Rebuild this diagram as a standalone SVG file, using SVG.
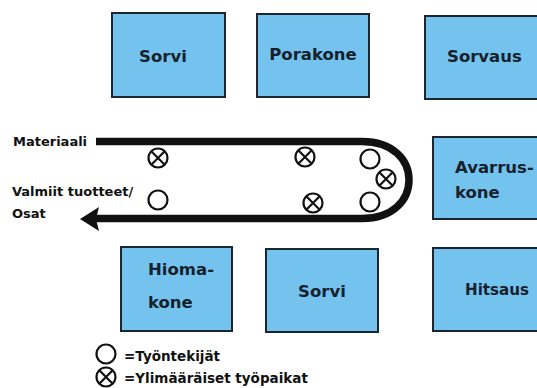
<svg xmlns="http://www.w3.org/2000/svg" width="537" height="388" viewBox="0 0 537 388">
  <style>
    .box { fill: #74c3ef; stroke: #1b2630; stroke-width: 2; }
    .lbl { font-family: "DejaVu Sans", "Liberation Sans", sans-serif; font-weight: bold; font-size: 16.5px; fill: #17212b; }
    .txt { font-family: "DejaVu Sans", "Liberation Sans", sans-serif; font-weight: bold; font-size: 13px; fill: #111; }
    .leg { font-size: 13.5px; }
    .belt { fill: none; stroke: #111; stroke-width: 7.5; }
    .mark { fill: #fff; stroke: #111; stroke-width: 2.2; }
    .cross { stroke: #111; stroke-width: 2.2; }
  </style>
  <defs>
    <!-- worker -->
    <g id="worker"><circle class="mark" r="9.5"/></g>
    <!-- extra workstation: circle with X -->
    <g id="extra">
      <circle class="mark" r="9.5"/>
      <path class="cross" d="M-6.7,-6.7 L6.7,6.7 M6.7,-6.7 L-6.7,6.7"/>
    </g>
  </defs>

  <rect width="537" height="388" fill="#fff"/>

  <!-- machines, top row -->
  <g id="sorvi-top"><rect class="box" x="112" y="13" width="113" height="84"/><text class="lbl" x="163" y="62" text-anchor="middle">Sorvi</text></g>
  <g id="porakone"><rect class="box" x="257" y="14" width="112" height="83"/><text class="lbl" x="313" y="60" text-anchor="middle">Porakone</text></g>
  <g id="sorvaus"><rect class="box" x="425" y="16" width="120" height="83"/><text class="lbl" x="447" y="62">Sorvaus</text></g>

  <!-- machine beside the belt -->
  <g id="avarruskone"><rect class="box" x="433" y="137" width="112" height="82"/><text class="lbl" x="455" y="173">Avarrus-</text><text class="lbl" x="455" y="198">kone</text></g>

  <!-- machines, bottom row -->
  <g id="hiomakone"><rect class="box" x="121" y="247" width="111" height="84"/><text class="lbl" x="148" y="275">Hioma-</text><text class="lbl" x="148" y="308">kone</text></g>
  <g id="sorvi-bottom"><rect class="box" x="266" y="249" width="112" height="83"/><text class="lbl" x="322" y="297" text-anchor="middle">Sorvi</text></g>
  <g id="hitsaus"><rect class="box" x="433" y="248" width="112" height="83"/><text class="lbl" x="465" y="295" textLength="64" lengthAdjust="spacingAndGlyphs">Hitsaus</text></g>

  <!-- material flow belt -->
  <g id="connectors">
    <path class="belt" d="M96,141.5 H362 C393,141.5 409,160 409,180 C409,200 393,218.5 362,218.5 H94"/>
    <polygon points="80,219 99,207 96,219 99,231" fill="#111"/>
  </g>

  <g id="labels">
    <text class="txt" x="13" y="146">Materiaali</text>
    <text class="txt" x="12" y="196">Valmiit tuotteet/</text>
    <text class="txt" x="12" y="218">Osat</text>
  </g>

  <!-- stations along the belt -->
  <g id="stations">
    <use href="#extra" x="158" y="158"/>
    <use href="#worker" x="158" y="200"/>
    <use href="#extra" x="305" y="157"/>
    <use href="#extra" x="313" y="203"/>
    <use href="#worker" x="370" y="159"/>
    <use href="#extra" x="386" y="179"/>
    <use href="#worker" x="370" y="202"/>
  </g>

  <!-- legend -->
  <g id="legend">
    <use href="#worker" x="106" y="354"/>
    <text class="txt leg" x="124" y="361">=Työntekijät</text>
    <use href="#extra" x="106" y="377"/>
    <text class="txt leg" x="124" y="383">=Ylimääräiset työpaikat</text>
  </g>
</svg>
